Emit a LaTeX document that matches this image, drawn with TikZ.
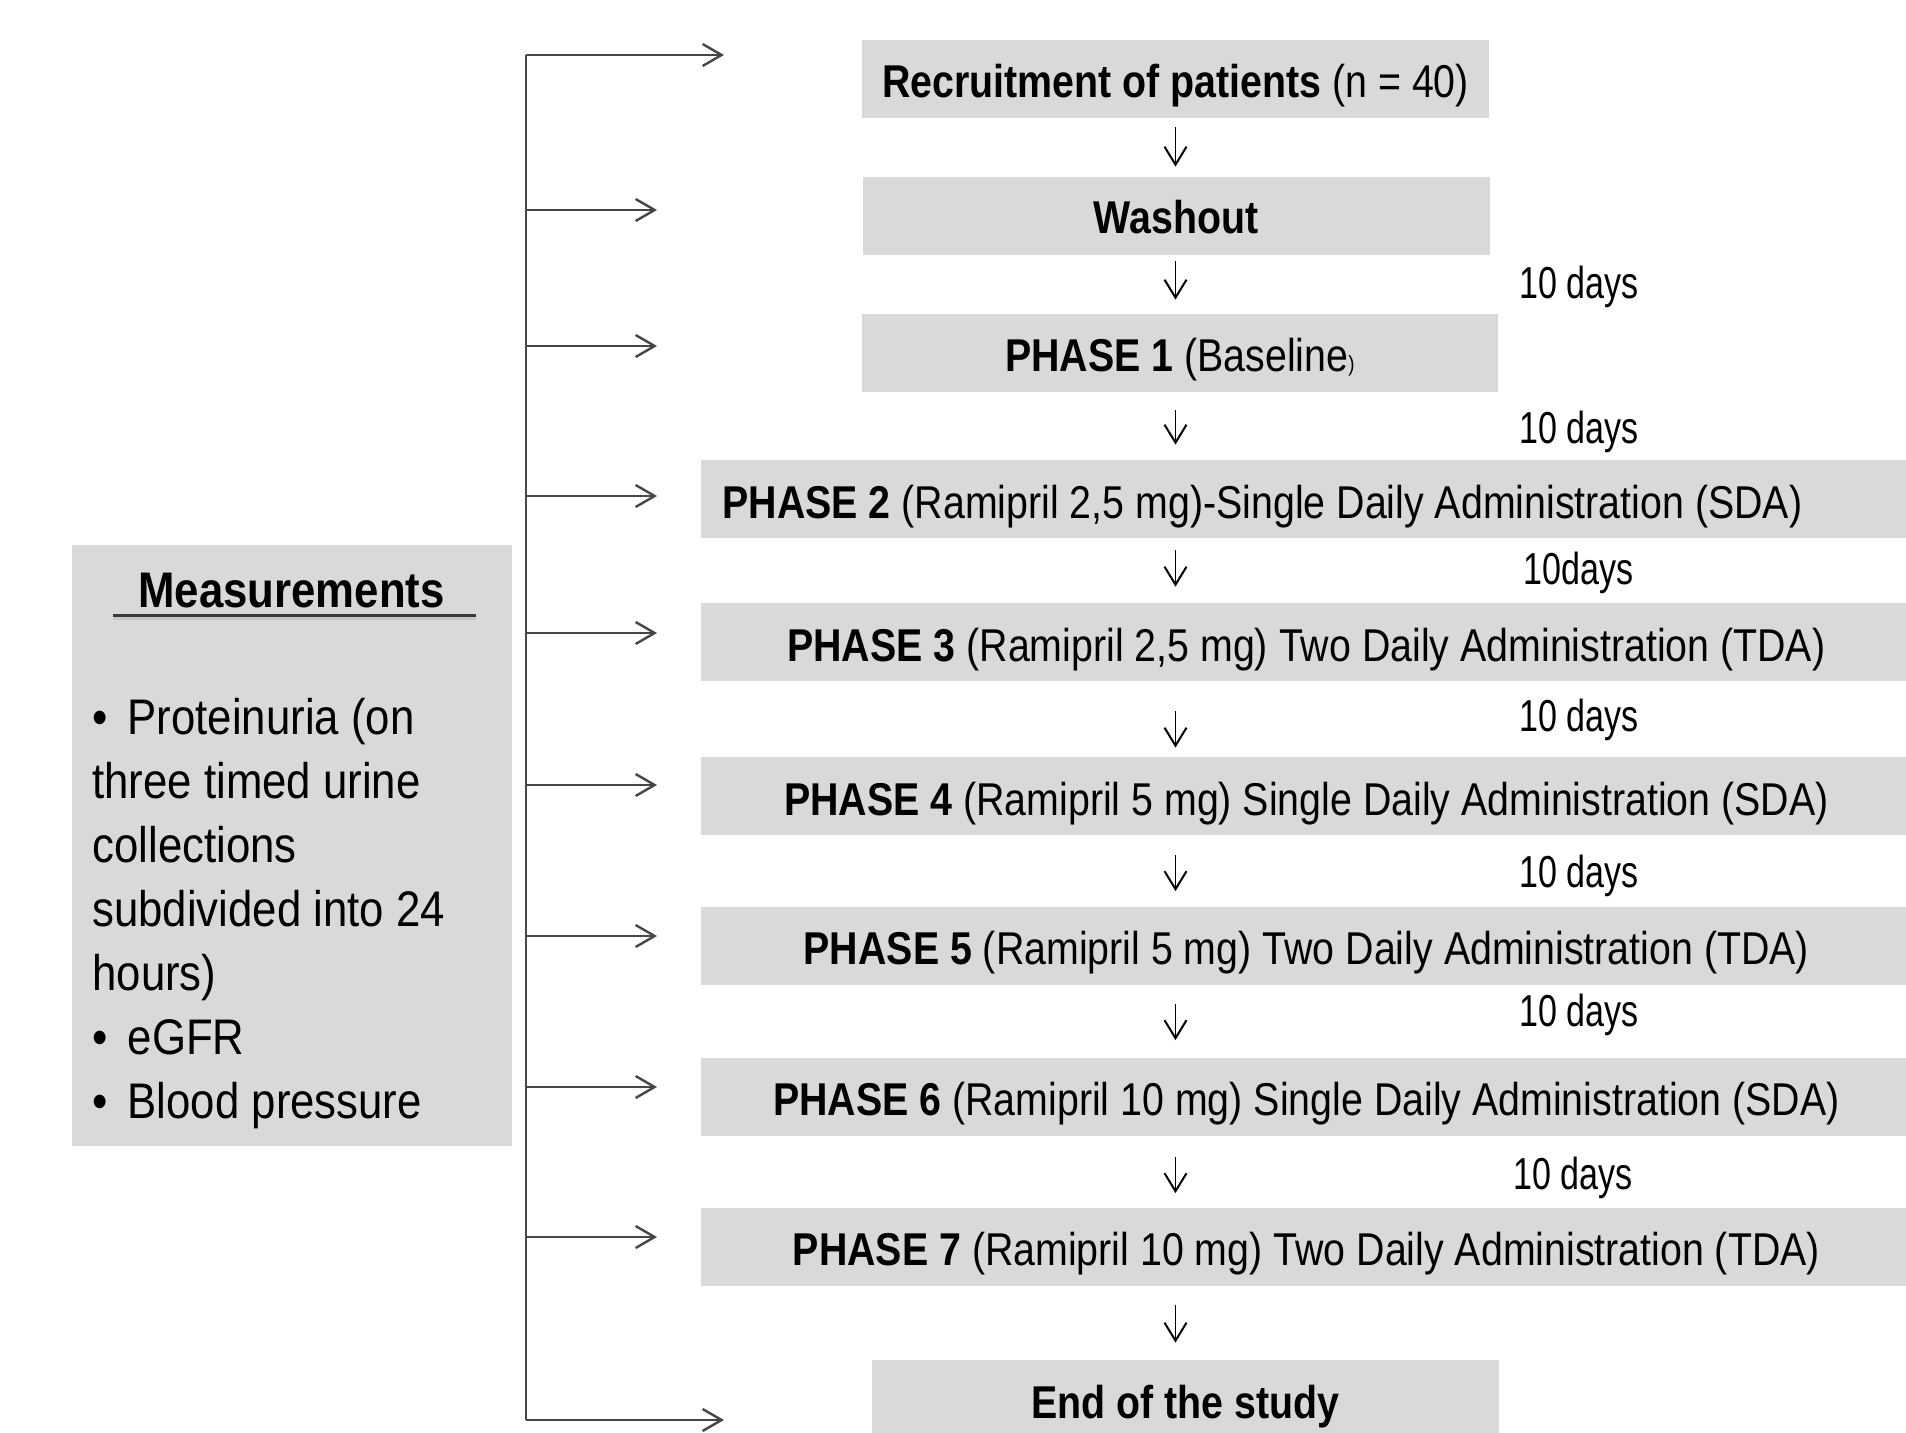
\documentclass[tikz,border=0pt]{standalone}
\usepackage{fontspec}
\setmainfont{Liberation Sans}
\newfontfamily\boxfont[FakeStretch=0.855]{Liberation Sans}
\newfontfamily\measfont[FakeStretch=0.875]{Liberation Sans}
\newfontfamily\daysfont[FakeStretch=0.76]{Liberation Sans}
\usetikzlibrary{arrows.meta}
\definecolor{boxgray}{RGB}{217,217,217}
\definecolor{linegray}{RGB}{70,70,70}
\begin{document}
\begin{tikzpicture}[x=0.5pt,y=-0.5pt,
  greybox/.style={fill=boxgray, inner sep=0pt, minimum height=39pt,
    text height=19pt, text depth=0pt,
    font=\boxfont\fontsize{23pt}{27pt}\selectfont},
  daylabel/.style={anchor=base west, inner sep=0pt,
    font=\daysfont\fontsize{22.4pt}{26pt}\selectfont},
  measline/.style={anchor=base west, inner sep=0pt,
    font=\measfont\fontsize{25pt}{32pt}\selectfont},
  harrow/.style={draw=linegray, line width=1.2pt,
    -{Straight Barb[length=9.5pt,width=11pt,line width=1.2pt]}},
  darrow/.style={draw=black, line width=0.75pt,
    -{Straight Barb[length=9pt,width=11pt,line width=1pt]}}]
\useasboundingbox (0,0) rectangle (1906,1433);
\fill[white] (0,0) rectangle (1906,1433);
\clip (0,0) rectangle (1906,1433);

% flow boxes
\node[greybox, minimum width=313.5pt] (rec) at (1175.5,79) {\textbf{Recruitment of patients} (n = 40)};
\node[greybox, minimum width=313.5pt, text height=18pt] (wash) at (1176,216) {\textbf{Washout}};
\node[greybox, minimum width=318pt] (p1) at (1180,353) {\textbf{PHASE 1} (Baseline{\fontsize{11pt}{11pt}\selectfont)}};
\node[greybox, minimum width=605pt, anchor=west] (p2) at (701,499) {\textbf{PHASE 2} (Ramipril 2,5 mg)-Single Daily Administration (SDA)\hspace*{44pt}};
\node[greybox, minimum width=605pt, anchor=west] (p3) at (701,642) {\textbf{PHASE 3} (Ramipril 2,5 mg) Two Daily Administration (TDA)};
\node[greybox, minimum width=605pt, anchor=west] (p4) at (701,796) {\textbf{PHASE 4} (Ramipril 5 mg) Single Daily Administration (SDA)};
\node[greybox, minimum width=605pt, anchor=west] (p5) at (701,945.5) {\textbf{PHASE 5} (Ramipril 5 mg) Two Daily Administration (TDA)};
\node[greybox, minimum width=605pt, anchor=west] (p6) at (701,1096.5) {\textbf{PHASE 6} (Ramipril 10 mg) Single Daily Administration (SDA)};
\node[greybox, minimum width=605pt, anchor=west] (p7) at (701,1246.5) {\textbf{PHASE 7} (Ramipril 10 mg) Two Daily Administration (TDA)};
\node[greybox, minimum width=313.5pt] (end) at (1185.5,1399) {\textbf{End of the study}};

% down arrows
\coordinate (ax) at (1175.5,0);
\draw[darrow, shorten <=4.5pt, shorten >=5pt] (rec.south -| ax) -- (wash.north -| ax);
\draw[darrow, shorten <=3pt, shorten >=7pt] (wash.south -| ax) -- (p1.north -| ax);
\draw[darrow, shorten <=9pt, shorten >=7.5pt] (p1.south -| ax) -- (p2.north -| ax);
\draw[darrow, shorten <=6pt, shorten >=8pt] (p2.south -| ax) -- (p3.north -| ax);
\draw[darrow, shorten <=15pt, shorten >=4.5pt] (p3.south -| ax) -- (p4.north -| ax);
\draw[darrow, shorten <=10pt, shorten >=7.5pt] (p4.south -| ax) -- (p5.north -| ax);
\draw[darrow, shorten <=9.5pt, shorten >=8.5pt] (p5.south -| ax) -- (p6.north -| ax);
\draw[darrow, shorten <=10.5pt, shorten >=7pt] (p6.south -| ax) -- (p7.north -| ax);
\draw[darrow, shorten <=9.5pt, shorten >=8.5pt] (p7.south -| ax) -- (end.north -| ax);

% day labels
\node[daylabel] (d1) at (1519,299) {10 days};
\node[daylabel] (d2) at (1519,444) {10 days};
\node[daylabel] (d3) at (1523,584) {10days};
\node[daylabel] (d4) at (1519,731) {10 days};
\node[daylabel] (d5) at (1519,887) {10 days};
\node[daylabel] (d6) at (1519,1026) {10 days};
\node[daylabel] (d7) at (1513,1189) {10 days};

% measurements box
\node[fill=boxgray, inner sep=0pt, minimum width=220pt, minimum height=300.5pt] (meas) at (292,845.5) {};
\node[anchor=base, inner sep=0pt, font=\measfont\bfseries\fontsize{25pt}{30pt}\selectfont] (mtitle) at (291.5,607) {Measurements};
\coordinate (ulA) at (113,615);
\coordinate (ulB) at (476,615);
\draw[line width=1.5pt, color=black!22] ([yshift=-1.5pt]ulA) -- ([yshift=-1.5pt]ulB);
\draw[line width=1.5pt, color=black!78] (ulA) -- (ulB);
\node[measline] (m1) at (92,734) {\textbullet\hspace{10pt}Proteinuria (on};
\node[measline] (m2) at (92,798) {three timed urine};
\node[measline] (m3) at (92,862) {collections};
\node[measline] (m4) at (92,926) {subdivided into 24};
\node[measline] (m5) at (92,990) {hours)};
\node[measline] (m6) at (92,1054) {\textbullet\hspace{10pt}eGFR};
\node[measline] (m7) at (92,1118) {\textbullet\hspace{10pt}Blood pressure};

% bracket with arrows
\coordinate (sTop) at (526,55);
\coordinate (sBot) at (526,1420);
\draw[draw=linegray, line width=1.1pt] (sTop) -- (sBot);
\coordinate (e0) at (724,55);
\coordinate (e1) at (657,210);
\coordinate (e2) at (657,346);
\coordinate (e3) at (657,496);
\coordinate (e4) at (657,633);
\coordinate (e5) at (657,785);
\coordinate (e6) at (657,936);
\coordinate (e7) at (657,1087);
\coordinate (e8) at (657,1237);
\coordinate (e9) at (724,1420);
\foreach \e in {e0,e1,e2,e3,e4,e5,e6,e7,e8,e9}
  \draw[harrow] (sTop |- \e) -- (\e);
\end{tikzpicture}
\end{document}
